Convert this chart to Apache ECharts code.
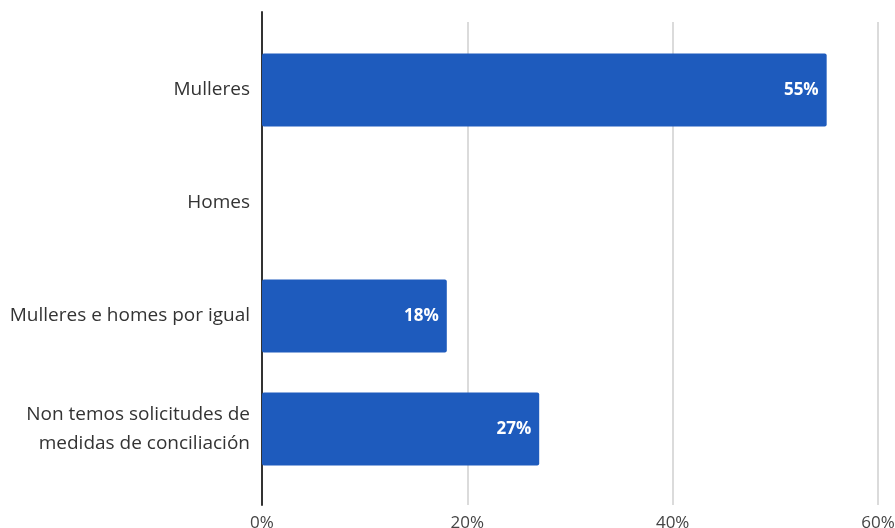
<!DOCTYPE html>
<html>
<head>
<meta charset="utf-8">
<script src="https://cdn.jsdelivr.net/npm/echarts@6/dist/echarts.min.js"></script>
<style>
  html, body { margin: 0; padding: 0; background: #fff; }
  #chart { width: 895px; height: 528px; }
</style>
</head>
<body>
<div id="chart"></div>
<script>
// Answers: who requests work–life balance measures
const categories = [
  'Mulleres',
  'Homes',
  'Mulleres e homes por igual',
  'Non temos solicitudes de\nmedidas de conciliación'
];
const shares = [55, null, 18, 27];
const tickValues = [0, 20, 40, 60];

const FONT = '"Open Sans", "Noto Sans", sans-serif';
const chart = echarts.init(document.getElementById('chart'));

chart.setOption({
  animation: false,
  grid: [
    // frame for the vertical baseline
    { left: 262, right: 17, top: 12, bottom: 23, outerBoundsMode: 'none' },
    // frame for the vertical gridlines and tick labels
    { left: 262, right: 17, top: 22, bottom: 23, outerBoundsMode: 'none' },
    // frame for the bars
    { left: 262, right: 17, top: 33.5, bottom: 42.5, outerBoundsMode: 'none' }
  ],
  xAxis: [
    { gridIndex: 0, type: 'value', min: 0, max: 60, show: false },
    {
      gridIndex: 1, type: 'value', min: 0, max: 60, interval: 20,
      axisLine: { show: false }, axisTick: { show: false },
      splitLine: { show: true, lineStyle: { color: '#cfcfcf', width: 1.5 } },
      axisLabel: {
        margin: 10, color: '#444', fontSize: 17, fontFamily: FONT,
        formatter: v => tickValues.includes(v) ? v + '%' : ''
      }
    },
    { gridIndex: 2, type: 'value', min: 0, max: 60, show: false }
  ],
  yAxis: [
    {
      gridIndex: 0, type: 'category', data: categories, inverse: true,
      axisLine: { show: true, lineStyle: { color: '#333', width: 2 } },
      axisTick: { show: false }, axisLabel: { show: false }, splitLine: { show: false }
    },
    { gridIndex: 1, type: 'category', data: categories, show: false },
    {
      gridIndex: 2, type: 'category', data: categories, inverse: true,
      axisLine: { show: false }, axisTick: { show: false },
      axisLabel: {
        margin: 12, color: '#333', fontSize: 19, fontFamily: FONT,
        lineHeight: 29, align: 'right'
      }
    }
  ],
  series: [{
    type: 'bar',
    xAxisIndex: 2, yAxisIndex: 2,
    data: shares,
    barWidth: 73,
    itemStyle: { color: '#1e5bbd', borderRadius: 2 },
    label: {
      show: true, position: 'insideRight', distance: 8,
      color: '#fff', fontWeight: 'bold', fontSize: 17, fontFamily: FONT,
      formatter: p => p.value == null ? '' : p.value + '%'
    }
  }]
});
</script>
</body>
</html>
